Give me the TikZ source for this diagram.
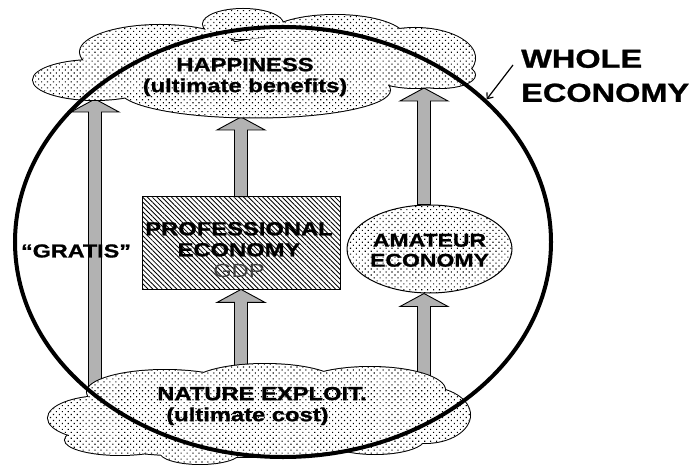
\documentclass[tikz,border=0pt]{standalone}
\usepackage{fontspec}
\setmainfont{Liberation Sans}[FakeStretch=1.25, BoldFeatures={FakeBold=1}]
\usetikzlibrary{arrows.meta, positioning, calc, shapes.geometric, patterns.meta}

\definecolor{shaftgray}{gray}{0.7}
\definecolor{gdpgray}{gray}{0.25}

% cloud lobes: x/y/x radius/y radius
\newcommand\toplobes{95/80/62/20, 160/52/80/27, 243/24/40/15, 335/38/70/23,
  415/58/60/30, 440/75/35/13, 255/90/135/27.5, 300/62/100/26, 170/80/70/22}
\newcommand\botlobes{105/418/57/22, 165/392/78/22, 265/385/75/21, 370/390/75/23,
  425/415/45/28, 230/437/150/20, 200/452/40/12, 120/440/55/15, 375/438/50/16,
  265/412/150/24}

\begin{document}
\begin{tikzpicture}[
  x=1bp, y=-1bp,
  txt/.style = {font=\bfseries\fontsize{19bp}{21bp}\selectfont, align=center, inner sep=0pt},
  small/.style = {font=\bfseries\fontsize{18.4bp}{20bp}\selectfont},
  dotted fill/.style = {pattern={Dots[radius=0.8bp, distance=4.2bp, angle=45]}},
  hatched/.style = {pattern={Lines[angle=-45, distance=3.4bp, line width=0.85bp]}},
  cloudline/.style = {draw, line width=2bp},
  barrow/.style = {draw, line width=0.9bp, fill=shaftgray},
  pointer/.style = {line width=1.2bp, -{Straight Barb[length=5bp, width=8bp]}}
]
  \useasboundingbox (0,0) rectangle (698,468);

  % Professional economy
  \node[draw, line width=1bp, hatched, minimum width=198bp, minimum height=92bp,
        inner sep=0pt] (prof) at (241,243) {};

  % Amateur economy
  \node[ellipse, draw, line width=1bp, dotted fill, minimum width=165bp,
        minimum height=88bp, inner sep=0pt] (amateur) at (429.5,249) {};

  % arrow ends
  \coordinate (gratisin) at (95,420);
  \coordinate (gratisout) at (95,99);
  \coordinate (gdpin) at (241,420);
  \coordinate (profin) at (prof.south -| gdpin);
  \coordinate (profout) at (prof.north -| gdpin);
  \coordinate (happymid) at (241,117);
  \coordinate (amain) at (424,420);
  \coordinate (amateurin) at (amateur.south -| amain);
  \coordinate (amateurout) at (amateur.north -| amain);
  \coordinate (happyright) at (424,88);

  % block arrows
  \foreach \f/\t in {gratisin/gratisout, gdpin/profin, profout/happymid,
                     amain/amateurin, amateurout/happyright}
    \draw[barrow] ($(\f)+(-6.5,0)$) -- ($(\t)+(-6.5,13)$) -- ($(\t)+(-24,13)$)
      -- (\t) -- ($(\t)+(24,13)$) -- ($(\t)+(6.5,13)$) -- ($(\f)+(6.5,0)$) -- cycle;

  % top cloud
  \path[cloudline] foreach \cx/\cy/\rx/\ry in \toplobes
    {(\cx,\cy) ellipse [x radius=\rx, y radius=\ry]};
  \fill[white] foreach \cx/\cy/\rx/\ry in \toplobes
    {(\cx,\cy) ellipse [x radius=\rx, y radius=\ry]};
  \path[dotted fill] foreach \cx/\cy/\rx/\ry in \toplobes
    {(\cx,\cy) ellipse [x radius=\rx, y radius=\ry]};

  % bottom cloud
  \path[cloudline] foreach \cx/\cy/\rx/\ry in \botlobes
    {(\cx,\cy) ellipse [x radius=\rx, y radius=\ry]};
  \fill[white] foreach \cx/\cy/\rx/\ry in \botlobes
    {(\cx,\cy) ellipse [x radius=\rx, y radius=\ry]};
  \path[dotted fill] foreach \cx/\cy/\rx/\ry in \botlobes
    {(\cx,\cy) ellipse [x radius=\rx, y radius=\ry]};

  % labels
  \node[txt] (happy) at (245,77) {HAPPINESS\\(ultimate benefits)};
  \node[txt, align=left] (nature) at (262,406) {NATURE EXPLOIT.\\\hspace*{9bp}(ultimate cost)};
  \node[txt] (proflbl) at ($(prof)+(-2,6.8)$)
    {PROFESSIONAL\\ECONOMY\\{\mdseries\color{gdpgray}GDP}};
  \node[txt, small] (amalbl) at ($(amateur)+(0,1.4)$) {AMATEUR\\ECONOMY};
  \node[txt, font=\bfseries\fontsize{18.7bp}{20bp}\selectfont] (gratis) at (76,251) {``GRATIS''};

  % Whole economy
  \node[ellipse, draw, line width=4bp, minimum width=536bp, minimum height=430bp] (whole) at (283,242) {};
  \node[txt, font=\bfseries\fontsize{26bp}{34bp}\selectfont, align=left, anchor=north west]
    (wholelbl) at (521,49.4) {WHOLE\\ECONOMY};
  \coordinate (ptr) at (513,65);
  \draw[pointer] (ptr) -- (whole.35);

\end{tikzpicture}
\end{document}
